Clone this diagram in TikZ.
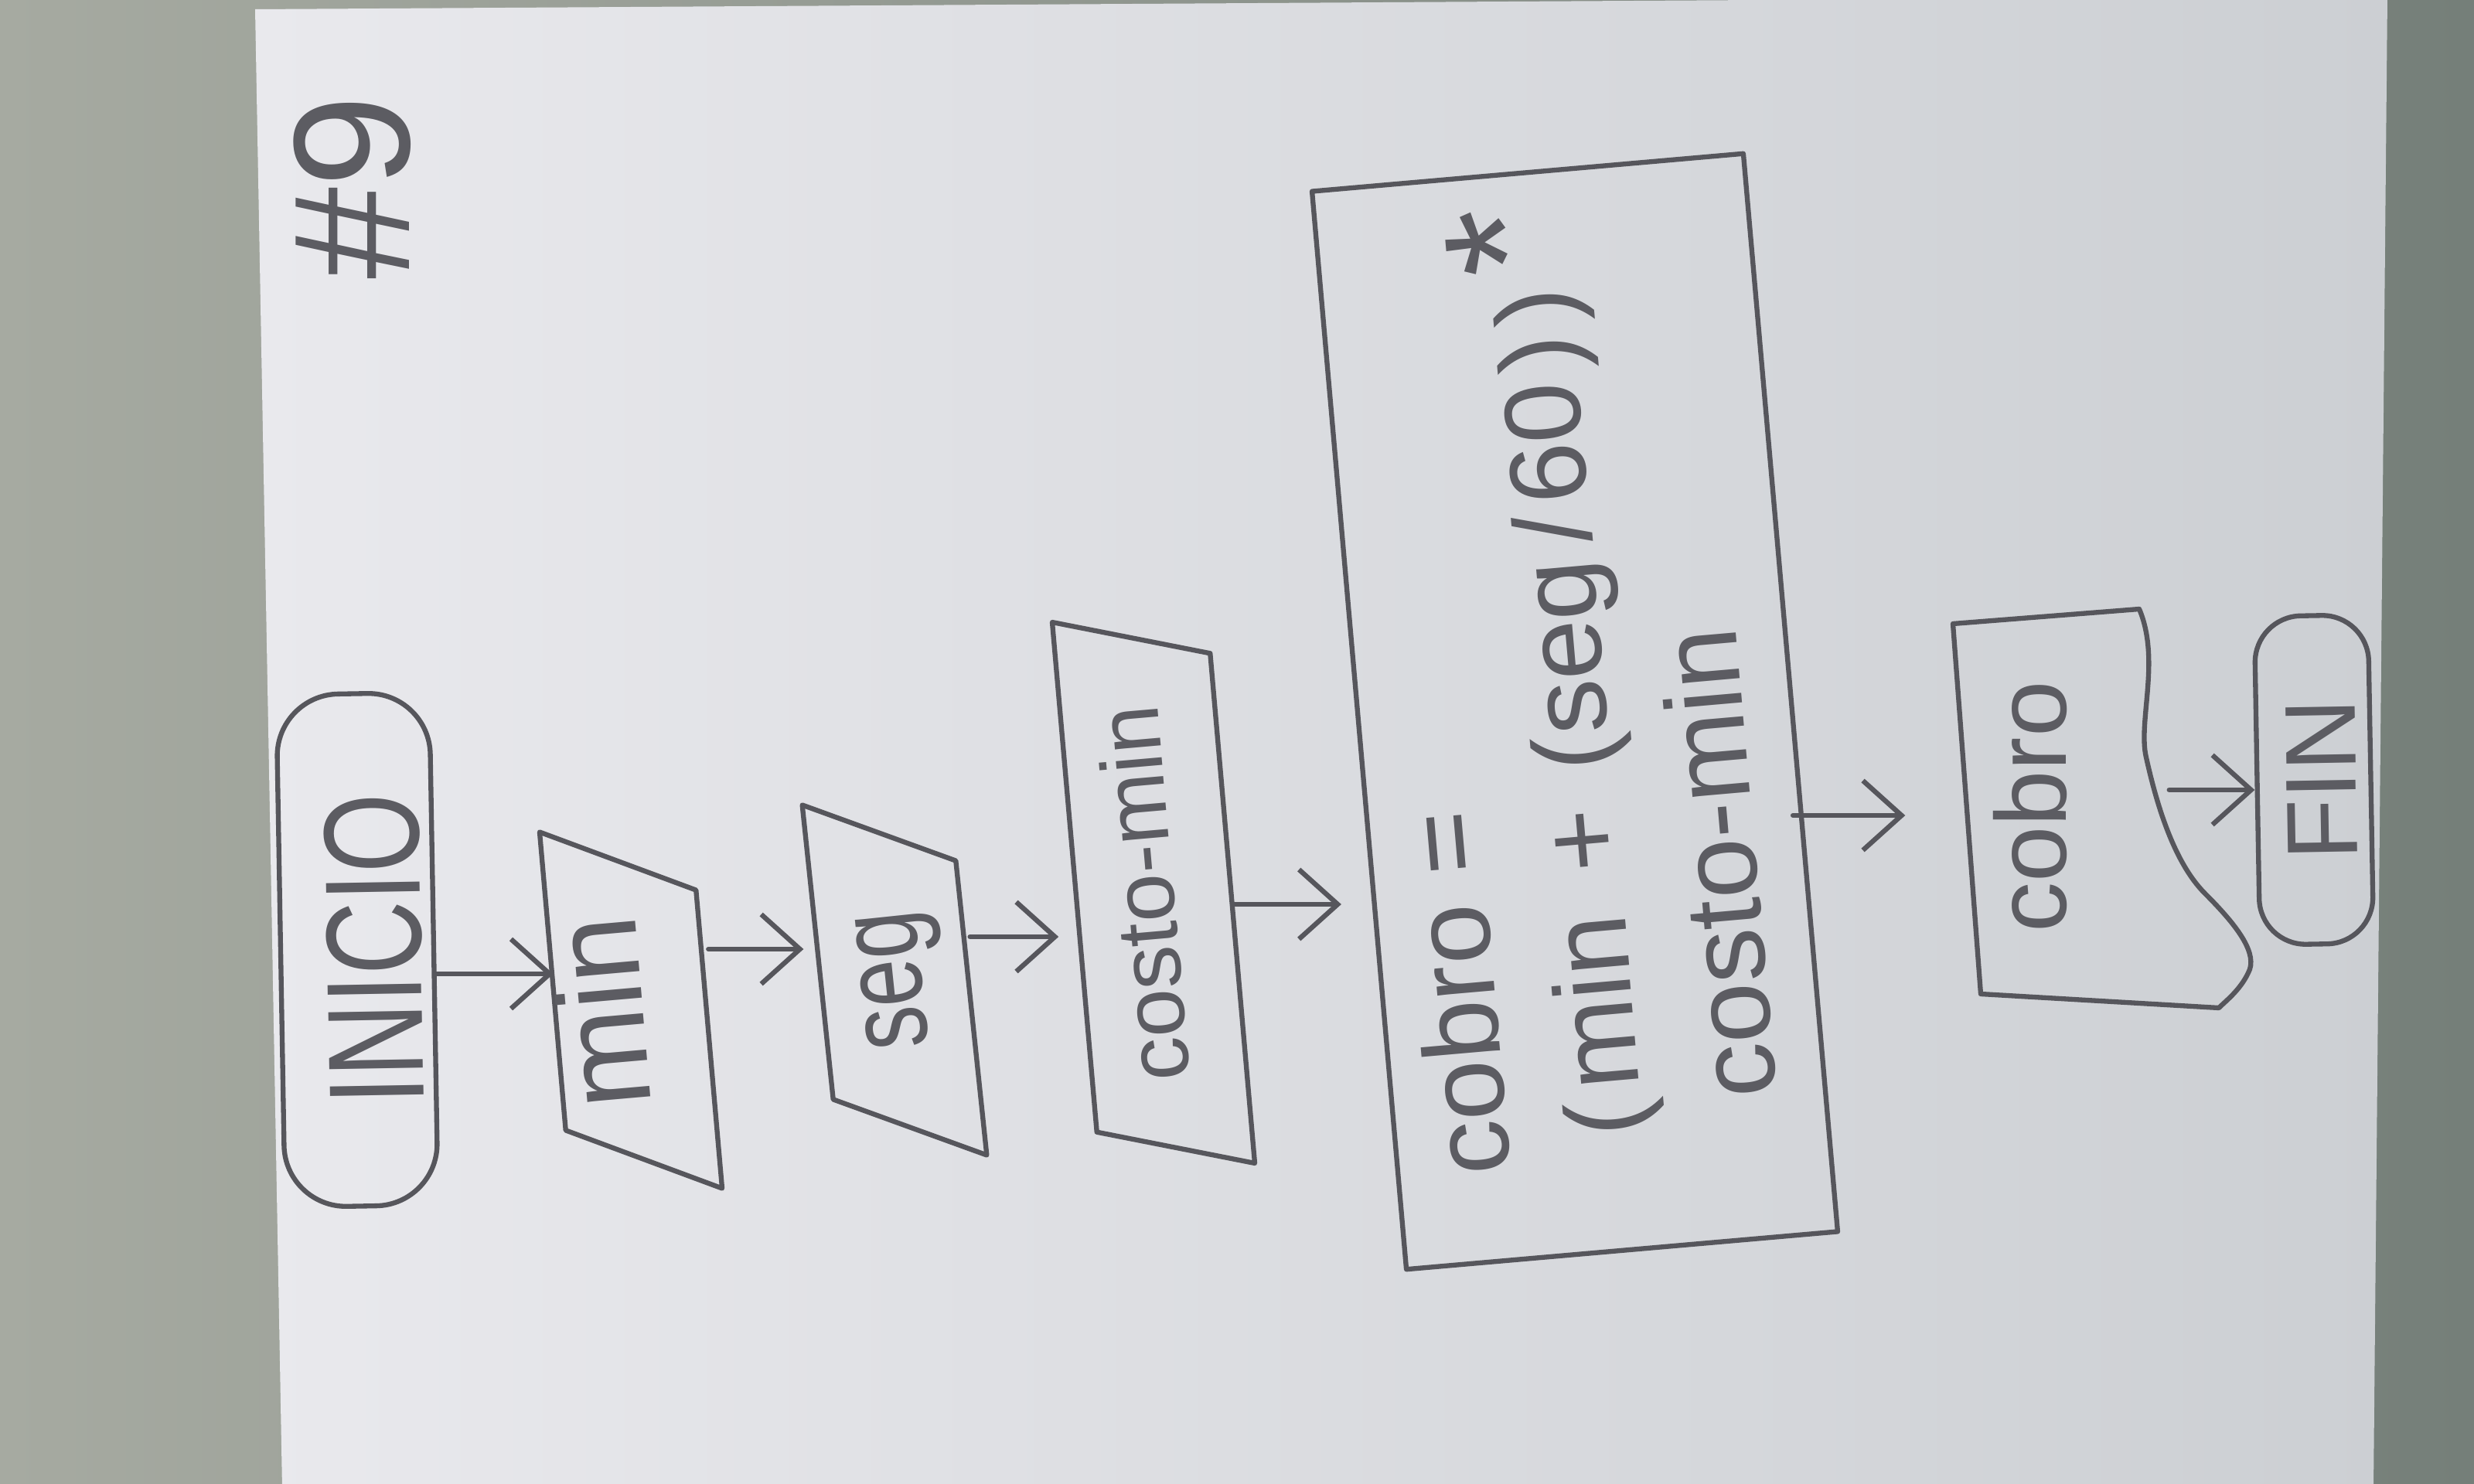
\documentclass[tikz,border=0pt]{standalone}
\usepackage{fontspec}
\newfontfamily\hand{Liberation Sans}
\newfontfamily\handn[FakeStretch=0.75]{Liberation Sans}
\usetikzlibrary{shapes.geometric,arrows.meta}

\definecolor{pencil}{RGB}{86,86,92}
\definecolor{graphite}{RGB}{92,92,98}
\definecolor{wallL}{RGB}{166,170,161}
\definecolor{wallR}{RGB}{117,127,121}
\definecolor{paperL}{RGB}{233,233,237}
\definecolor{paperM}{RGB}{222,222,226}
\definecolor{paperR}{RGB}{204,207,211}

\begin{document}
\begin{tikzpicture}[
		pen/.style={draw=pencil, line width=1.8pt, line cap=round, line join=round},
		term/.style={pen, rounded corners=8mm, inner sep=0pt, text=graphite},
		io/.style={pen, trapezium, trapezium left angle=68, trapezium right angle=112, trapezium stretches=true, inner sep=0pt, text=graphite},
		proc/.style={pen, rectangle, inner sep=0pt},
		arr/.style={pen, -{Straight Barb[length=5mm,width=9mm]}},
	]
		\useasboundingbox (0,0) rectangle (32,-19.2);
		
		% table and sheet
		\shade[left color=wallL, right color=wallR] (0,0) rectangle (32,-19.2);
		\shade[left color=paperL, middle color=paperM, right color=paperR] (3.30,-0.12) -- (30.88,0.05) -- (30.70,-19.25) -- (3.65,-19.25) -- cycle;
		
		\node[rotate=90, text=graphite, font=\hand\fontsize{61}{61}\selectfont, text height=48pt, text depth=0pt] (num) at (4.45,-2.42) {\#9};
		
		% flow, read bottom to top
		\node[term, rotate=91, minimum width=6.63cm, minimum height=1.98cm, font=\handn\fontsize{50}{50}\selectfont, text height=47pt, text depth=0pt] (inicio) at (4.62,-12.29) {INICIO};
		
		\node[io, rotate=95, minimum width=4.8cm, minimum height=1.95cm, font=\hand\fontsize{44}{44}\selectfont, text height=32pt, text depth=23pt] (min) at (8.16,-13.07) {min};
		\node[io, rotate=96, minimum width=4.77cm, minimum height=1.9cm, font=\handn\fontsize{42}{42}\selectfont, text height=30pt, text depth=10pt] (seg) at (11.57,-12.68) {seg};
		\node[io, trapezium left angle=62, trapezium right angle=118, rotate=95, minimum width=7.21cm, minimum height=2.0cm, font=\hand\fontsize{32}{32}\selectfont, text height=20pt, text depth=5pt] (costo) at (14.92,-11.55) {costo-min};
		
		\node[proc, rotate=95, minimum width=14cm, minimum height=5.6cm] (calc) at (20.37,-9.205) {};
		\node[rotate=95, align=left, text=graphite, font=\hand\fontsize{40}{50}\selectfont] (formula) at (20.25,-8.86) {cobro =\\\hspace*{10pt}(\hspace{4pt}min\hspace{16pt}+\hspace{14pt}(seg\hspace{6pt}/\hspace{4pt}60\hspace{4pt})\hspace{4pt})\hspace{6pt}\smash{\fontsize{64}{50}\selectfont*}\\\hspace*{20pt}costo-min};
		
		\node[rotate=90, minimum width=4.9cm, minimum height=2.5cm, inner sep=0pt, text=graphite, font=\hand\fontsize{37}{37}\selectfont, text height=26pt, text depth=30pt] (cobro) at (26.8,-10.44) {cobro};
		\begin{scope}[shift={(cobro.center)}, rotate=90]
			\draw[pen] (-2.42,1.18) -- (2.37,1.54) -- (2.56,-0.87)
				.. controls (1.9,-1.15) and (1.1,-0.85) .. (0.64,-0.96)
				.. controls (0.1,-1.08) and (-0.7,-1.3) .. (-1.12,-1.72)
				.. controls (-1.5,-2.1) and (-1.85,-2.38) .. (-2.1,-2.3)
				.. controls (-2.35,-2.2) and (-2.5,-2.0) .. (-2.6,-1.9) -- cycle;
		\end{scope}
		
		\node[term, rounded corners=6mm, rotate=91, minimum width=4.25cm, minimum height=1.47cm, font=\hand\fontsize{37}{37}\selectfont, text height=31pt, text depth=0pt] (fin) at (29.93,-10.09) {FIN};
		
		% arrows
		\draw[arr] (inicio.south |- 0,-12.6) -- (min.north |- 0,-12.6);
		\draw[arr, shorten >=2mm] (min.south |- 0,-12.28) -- (seg.north |- 0,-12.28);
		\draw[arr, shorten >=2mm] (seg.south |- 0,-12.12) -- (costo.north |- 0,-12.12);
		\draw[arr, shorten >=2mm] (costo.south |- 0,-11.7) -- (calc.north |- 0,-11.7);
		\draw[arr, shorten >=9mm] (calc.south |- 0,-10.55) -- (cobro.north |- 0,-10.55);
		\draw[arr] (cobro.south |- 0,-10.22) -- (fin.north |- 0,-10.22);
		
\end{tikzpicture}
\end{document}
